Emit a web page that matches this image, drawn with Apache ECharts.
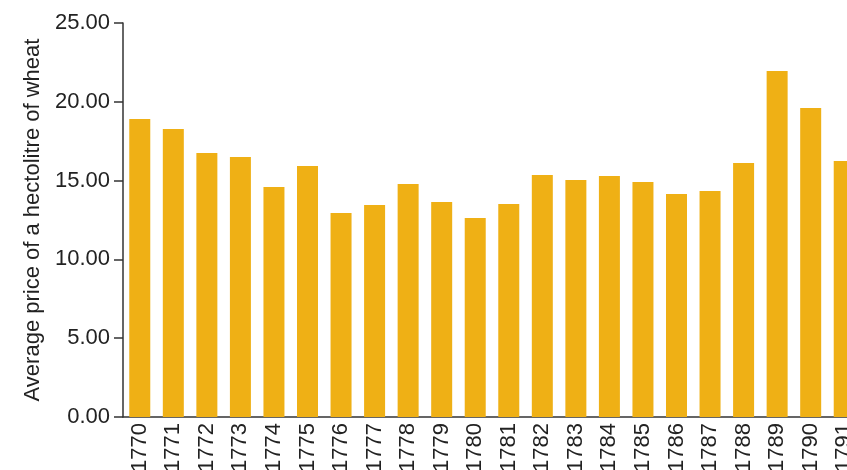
<!DOCTYPE html>
<html>
<head>
<meta charset="utf-8">
<script src="https://cdn.jsdelivr.net/npm/echarts@6/dist/echarts.min.js"></script>
<style>
  html, body { margin: 0; padding: 0; background: #fff; }
  #chart { width: 847px; height: 470px; }
</style>
</head>
<body>
<div id="chart"></div>
<script>
// years and average wheat price per hectolitre
var years = ['1770', '1771', '1772', '1773', '1774', '1775', '1776', '1777', '1778', '1779', '1780',
             '1781', '1782', '1783', '1784', '1785', '1786', '1787', '1788', '1789', '1790', '1791'];
var prices = [18.91, 18.27, 16.75, 16.50, 14.59, 15.93, 12.94, 13.45, 14.78, 13.64, 12.63,
              13.52, 15.36, 15.04, 15.29, 14.91, 14.15, 14.34, 16.12, 21.95, 19.61, 16.24];
var yTicks = [0, 5, 10, 15, 20, 25];

var chart = echarts.init(document.getElementById('chart'));
var option = {
    animation: false,
    textStyle: {
        fontFamily: 'Liberation Sans, Arial, sans-serif'
    },
    grid: {
        left: 123,
        width: 738,
        top: 23,
        bottom: 53,
        containLabel: false,
        outerBoundsMode: 'none'
    },
    xAxis: {
        type: 'category',
        data: years,
        axisLine: { lineStyle: { color: '#333', width: 1.5 } },
        axisTick: { show: false },
        axisLabel: {
            rotate: 90,
            margin: 6,
            fontSize: 22,
            color: '#222'
        }
    },
    yAxis: {
        type: 'value',
        min: yTicks[0],
        max: yTicks[yTicks.length - 1],
        interval: 5,
        name: 'Average price of a hectolitre of wheat',
        nameLocation: 'middle',
        nameGap: 79,
        nameTextStyle: { fontSize: 22, color: '#222' },
        splitLine: { show: false },
        axisLine: { show: true, lineStyle: { color: '#333', width: 1.5 } },
        axisTick: { show: true, length: 9, lineStyle: { color: '#333', width: 1.5 } },
        axisLabel: {
            fontSize: 22,
            color: '#222',
            margin: 13,
            formatter: function (v) { return v.toFixed(2); }
        }
    },
    series: [{
        type: 'bar',
        data: prices,
        barWidth: 21,
        itemStyle: { color: '#efb015' }
    }]
};
chart.setOption(option);
window.addEventListener('resize', function () { chart.resize(); });
</script>
</body>
</html>
